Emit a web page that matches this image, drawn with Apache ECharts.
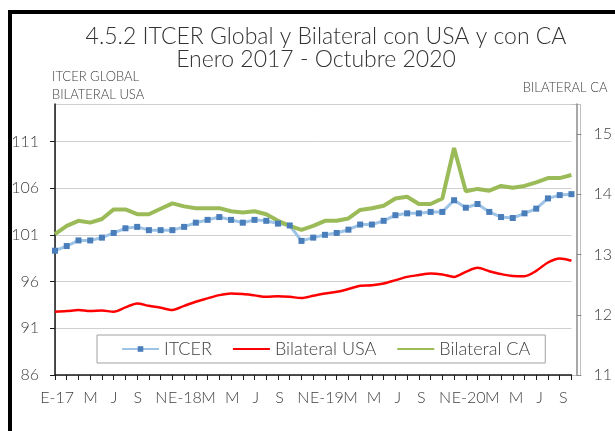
<!DOCTYPE html>
<html><head><meta charset="utf-8">
<script src="https://cdn.jsdelivr.net/npm/echarts@6/dist/echarts.min.js"></script>
<style>html,body{margin:0;padding:0;background:#fff}#c{width:615px;height:431px}</style>
</head><body><div id="c"></div>
<script>
// Tick labels: Jan 2017 .. Oct 2020 (label axis)
const tickLabels = ['E-17','F','M','A','M','J','J','A','S','O','N','D',
  'E-18','F','M','A','M','J','J','A','S','O','N','D',
  'E-19','F','M','A','M','J','J','A','S','O','N','D',
  'E-20','F','M','A','M','J','J','A','S','O'];
// Data categories: Feb 2017 .. Oct 2020
const categories = ['2017-02','2017-03','2017-04','2017-05','2017-06','2017-07','2017-08','2017-09','2017-10','2017-11','2017-12',
  '2018-01','2018-02','2018-03','2018-04','2018-05','2018-06','2018-07','2018-08','2018-09','2018-10','2018-11','2018-12',
  '2019-01','2019-02','2019-03','2019-04','2019-05','2019-06','2019-07','2019-08','2019-09','2019-10','2019-11','2019-12',
  '2020-01','2020-02','2020-03','2020-04','2020-05','2020-06','2020-07','2020-08','2020-09','2020-10'];
const itcer = [99.3, 99.8, 100.4, 100.4, 100.7, 101.2, 101.7, 101.85, 101.5, 101.5,
  101.5, 101.85, 102.3, 102.6, 102.9, 102.6, 102.3, 102.6, 102.5, 102.2,
  102.0, 100.35, 100.7, 101.0, 101.2, 101.55, 102.1, 102.1, 102.5, 103.1,
  103.3, 103.3, 103.45, 103.45, 104.7, 103.9, 104.3, 103.45, 102.9, 102.8,
  103.3, 103.8, 104.9, 105.25, 105.35];
const bilateralUSA = [92.77, 92.84, 92.95, 92.84, 92.9, 92.77, 93.23, 93.66, 93.4, 93.2,
  92.95, 93.4, 93.84, 94.2, 94.55, 94.73, 94.66, 94.52, 94.37, 94.44,
  94.37, 94.23, 94.48, 94.73, 94.9, 95.2, 95.55, 95.6, 95.8, 96.15,
  96.5, 96.7, 96.87, 96.76, 96.5, 97.04, 97.47, 97.11, 96.8, 96.6,
  96.58, 97.15, 98.04, 98.47, 98.22];
const bilateralCA = [13.34, 13.475, 13.56, 13.53, 13.59, 13.75, 13.75, 13.67, 13.67, 13.76,
  13.85, 13.8, 13.77, 13.77, 13.77, 13.72, 13.7, 13.72, 13.67, 13.56,
  13.475, 13.41, 13.475, 13.56, 13.56, 13.6, 13.74, 13.77, 13.81, 13.93,
  13.96, 13.84, 13.84, 13.93, 14.77, 14.05, 14.09, 14.06, 14.14, 14.11,
  14.14, 14.2, 14.27, 14.27, 14.32];

const FONT = "Lato, 'Noto Sans', sans-serif";
const TXT = '#404040';
const gridLeft = 55, gridRight = 40, gridTop = 104, gridBottom = 56;
const step = (615 - gridLeft - gridRight) / (categories.length - 1);

const chart = echarts.init(document.getElementById('c'));
chart.setOption({
  animation: false,
  backgroundColor: '#fff',
  textStyle: {fontFamily: FONT},
  title: [
    {text: '4.5.2 ITCER Global y Bilateral con USA y con CA', left: 326, top: 25, textAlign: 'center', padding: 0,
     textStyle: {fontSize: 23, fontWeight: 300, color: '#333', fontFamily: FONT}},
    {text: 'Enero 2017 - Octubre 2020', left: 316, top: 48, textAlign: 'center', padding: 0,
     textStyle: {fontSize: 23, fontWeight: 300, color: '#333', fontFamily: FONT}}
  ],
  legend: {
    left: 97, top: 335, padding: [5, 15, 5, 24], itemGap: 20, itemWidth: 37, itemHeight: 7,
    borderColor: '#A0A0A0', borderWidth: 1, backgroundColor: '#fff',
    textStyle: {fontSize: 18, fontWeight: 300, color: TXT, fontFamily: FONT},
    data: [{name: 'ITCER'}, {name: 'Bilateral USA', itemStyle: {opacity: 0}}, {name: 'Bilateral CA', itemStyle: {opacity: 0}}]
  },
  graphic: [
    {type: 'rect', shape: {x: gridLeft + 0.5, y: gridTop + 0.5, width: 615 - gridRight + 5 - gridLeft, height: 431 - gridBottom - gridTop}, style: {fill: 'none', stroke: '#BFBFBF', lineWidth: 1}, z: -1},
    {type: 'rect', shape: {x: 10, y: 12, width: 800, height: 600}, style: {fill: 'none', stroke: '#000', lineWidth: 4}, z: 10}
  ],
  grid: [
    {left: gridLeft, right: gridRight, top: gridTop, bottom: gridBottom},
    {left: gridLeft - step, right: gridRight, top: gridTop, bottom: gridBottom}
  ],
  xAxis: [
    {type: 'category', gridIndex: 0, data: categories, boundaryGap: false,
     axisLine: {lineStyle: {color: '#1a1a1a', width: 1.5}},
     axisTick: {show: true, interval: 0, length: 5, lineStyle: {color: '#1a1a1a', width: 1}},
     axisLabel: {show: false}, splitLine: {show: false}},
    {type: 'category', gridIndex: 1, data: tickLabels, boundaryGap: false,
     axisLine: {show: false}, axisTick: {show: false}, splitLine: {show: false},
     axisLabel: {
       interval: (i) => i % 2 === 0 && i !== 2,
       margin: 15, fontSize: 16, fontWeight: 300, color: TXT, fontFamily: FONT,
       formatter: (v, i) => i === 0 ? '{first|' + v + '}' : v,
       rich: {first: {padding: [0, 0, 0, 28], fontSize: 16, fontWeight: 300, color: TXT, fontFamily: FONT}}
     }}
  ],
  yAxis: [
    {type: 'value', gridIndex: 0, position: 'left', min: 86, max: 115, interval: 5,
     name: 'ITCER GLOBAL\nBILATERAL USA', nameLocation: 'end', nameGap: 0,
     nameTextStyle: {align: 'left', verticalAlign: 'bottom', fontSize: 13, lineHeight: 18, color: TXT, fontFamily: FONT, fontWeight: 300, padding: [0, 0, 0, -3]},
     axisLine: {show: true, lineStyle: {color: '#1a1a1a', width: 1.5}},
     axisTick: {show: true, length: 5, lineStyle: {color: '#1a1a1a'}},
     axisLabel: {margin: 16, fontSize: 16, fontWeight: 300, color: TXT, fontFamily: FONT, showMaxLabel: false},
     splitLine: {show: true, lineStyle: {color: '#CFCFCF', width: 1}}},
    {type: 'value', gridIndex: 0, position: 'right', offset: 5, min: 11, max: 15.5, interval: 1,
     name: 'BILATERAL CA', nameLocation: 'end', nameGap: 10,
     nameTextStyle: {align: 'right', verticalAlign: 'bottom', fontSize: 13, color: TXT, fontFamily: FONT, fontWeight: 300, padding: [0, -31, 0, 0]},
     axisLine: {show: true, lineStyle: {color: '#8C8C8C', width: 1.5}},
     axisTick: {show: true, length: 5, lineStyle: {color: '#8C8C8C'}},
     axisLabel: {margin: 17, fontSize: 16, fontWeight: 300, color: TXT, fontFamily: FONT, showMaxLabel: false},
     splitLine: {show: false}},
    {type: 'value', gridIndex: 1, show: false}
  ],
  series: [
    {name: 'ITCER', type: 'line', xAxisIndex: 0, yAxisIndex: 0, data: itcer,
     symbol: 'rect', symbolSize: 6, showSymbol: true,
     itemStyle: {color: '#4A7EBB'}, lineStyle: {color: '#9DC3E6', width: 3}},
    {name: 'Bilateral USA', type: 'line', xAxisIndex: 0, yAxisIndex: 0, data: bilateralUSA,
     symbol: 'none', smooth: 0.3, itemStyle: {color: '#FF0000'}, lineStyle: {color: '#FF0000', width: 2.5}},
    {name: 'Bilateral CA', type: 'line', xAxisIndex: 0, yAxisIndex: 1, data: bilateralCA,
     symbol: 'none', itemStyle: {color: '#9BBB59'}, lineStyle: {color: '#9BBB59', width: 4}}
  ]
});
</script>
</body></html>
